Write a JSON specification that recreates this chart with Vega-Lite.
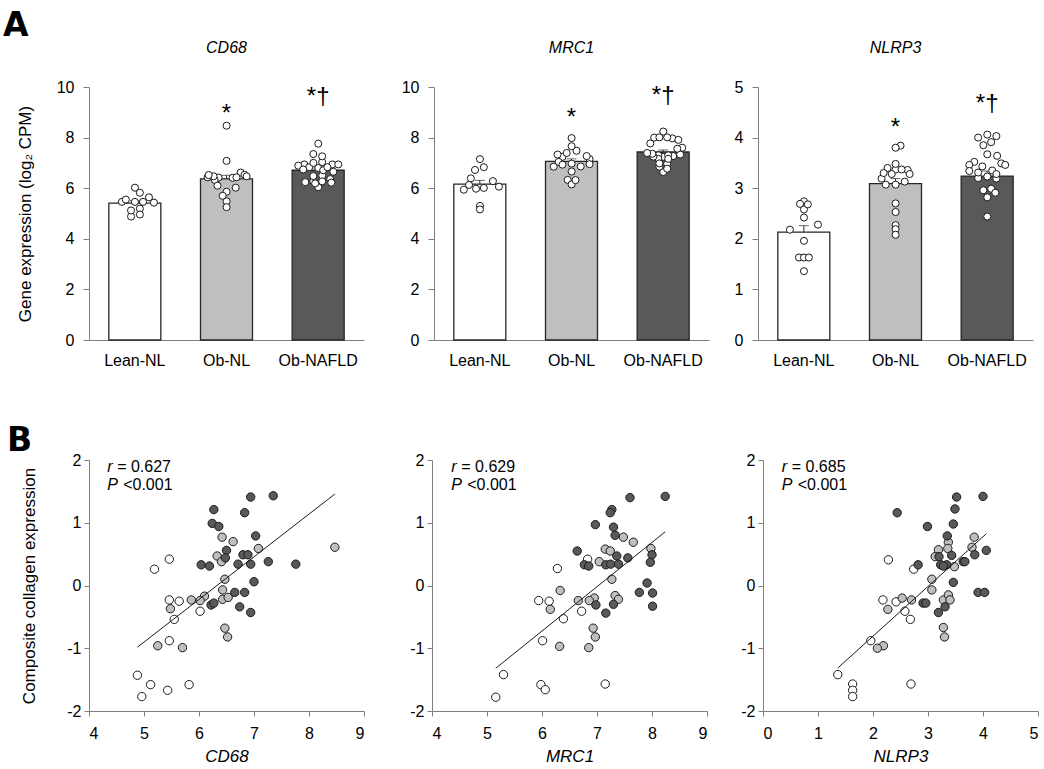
{
  "$schema": "https://vega.github.io/schema/vega-lite/v6.json",
  "background": "white",
  "padding": {"left": 3, "top": 10, "right": 0, "bottom": 5},
  "spacing": 57,
  "datasets": {
    "bars": [
      {"gene":"CD68","group":"Lean-NL","mean":5.41,"sem":0.10},
      {"gene":"CD68","group":"Ob-NL","mean":6.37,"sem":0.14},
      {"gene":"CD68","group":"Ob-NAFLD","mean":6.71,"sem":0.09},
      {"gene":"MRC1","group":"Lean-NL","mean":6.16,"sem":0.15},
      {"gene":"MRC1","group":"Ob-NL","mean":7.06,"sem":0.10},
      {"gene":"MRC1","group":"Ob-NAFLD","mean":7.43,"sem":0.08},
      {"gene":"NLRP3","group":"Lean-NL","mean":2.13,"sem":0.13},
      {"gene":"NLRP3","group":"Ob-NL","mean":3.09,"sem":0.10},
      {"gene":"NLRP3","group":"Ob-NAFLD","mean":3.24,"sem":0.10}
    ],
    "expr": [
      {"gene":"CD68","group":"Lean-NL","value":5.46,"collagen":0.42,"jitter":-0.5},
      {"gene":"CD68","group":"Lean-NL","value":5.19,"collagen":0.26,"jitter":0.19},
      {"gene":"CD68","group":"Lean-NL","value":5.46,"collagen":-0.23,"jitter":0},
      {"gene":"CD68","group":"Lean-NL","value":5.64,"collagen":-0.25,"jitter":0.54},
      {"gene":"CD68","group":"Lean-NL","value":6.02,"collagen":-0.41,"jitter":0},
      {"gene":"CD68","group":"Lean-NL","value":5.55,"collagen":-0.54,"jitter":-0.35},
      {"gene":"CD68","group":"Lean-NL","value":5.46,"collagen":-0.88,"jitter":0.31},
      {"gene":"CD68","group":"Lean-NL","value":4.88,"collagen":-1.43,"jitter":-0.15},
      {"gene":"CD68","group":"Lean-NL","value":5.12,"collagen":-1.58,"jitter":-0.15},
      {"gene":"CD68","group":"Lean-NL","value":4.96,"collagen":-1.77,"jitter":0.19},
      {"gene":"CD68","group":"Lean-NL","value":5.43,"collagen":-1.67,"jitter":0.73},
      {"gene":"CD68","group":"Lean-NL","value":5.82,"collagen":-1.58,"jitter":0.19},
      {"gene":"CD68","group":"Ob-NL","value":6.42,"collagen":0.77,"jitter":-0.31},
      {"gene":"CD68","group":"Ob-NL","value":6.62,"collagen":0.70,"jitter":0.54},
      {"gene":"CD68","group":"Ob-NL","value":7.08,"collagen":0.59,"jitter":0},
      {"gene":"CD68","group":"Ob-NL","value":8.47,"collagen":0.61,"jitter":0},
      {"gene":"CD68","group":"Ob-NL","value":6.33,"collagen":0.47,"jitter":-0.46},
      {"gene":"CD68","group":"Ob-NL","value":6.41,"collagen":0.38,"jitter":0.23},
      {"gene":"CD68","group":"Ob-NL","value":6.47,"collagen":0.10,"jitter":-0.5},
      {"gene":"CD68","group":"Ob-NL","value":6.43,"collagen":-0.07,"jitter":-0.73},
      {"gene":"CD68","group":"Ob-NL","value":6.10,"collagen":-0.17,"jitter":-0.35},
      {"gene":"CD68","group":"Ob-NL","value":5.86,"collagen":-0.23,"jitter":0},
      {"gene":"CD68","group":"Ob-NL","value":6.02,"collagen":-0.24,"jitter":0.35},
      {"gene":"CD68","group":"Ob-NL","value":6.43,"collagen":-0.22,"jitter":0.38},
      {"gene":"CD68","group":"Ob-NL","value":6.53,"collagen":-0.19,"jitter":0.69},
      {"gene":"CD68","group":"Ob-NL","value":5.48,"collagen":-0.37,"jitter":0},
      {"gene":"CD68","group":"Ob-NL","value":6.47,"collagen":-0.68,"jitter":0.77},
      {"gene":"CD68","group":"Ob-NL","value":6.52,"collagen":-0.82,"jitter":-0.69},
      {"gene":"CD68","group":"Ob-NL","value":5.25,"collagen":-0.96,"jitter":0},
      {"gene":"CD68","group":"Ob-NL","value":5.70,"collagen":-0.99,"jitter":-0.15},
      {"gene":"CD68","group":"Ob-NAFLD","value":6.94,"collagen":1.41,"jitter":-0.54},
      {"gene":"CD68","group":"Ob-NAFLD","value":7.35,"collagen":1.43,"jitter":-0.19},
      {"gene":"CD68","group":"Ob-NAFLD","value":6.27,"collagen":1.21,"jitter":-0.19},
      {"gene":"CD68","group":"Ob-NAFLD","value":6.83,"collagen":1.16,"jitter":-0.35},
      {"gene":"CD68","group":"Ob-NAFLD","value":6.24,"collagen":0.99,"jitter":-0.5},
      {"gene":"CD68","group":"Ob-NAFLD","value":6.36,"collagen":0.94,"jitter":0.46},
      {"gene":"CD68","group":"Ob-NAFLD","value":7.03,"collagen":0.79,"jitter":0.15},
      {"gene":"CD68","group":"Ob-NAFLD","value":6.50,"collagen":0.56,"jitter":0.15},
      {"gene":"CD68","group":"Ob-NAFLD","value":6.48,"collagen":0.44,"jitter":-0.19},
      {"gene":"CD68","group":"Ob-NAFLD","value":6.80,"collagen":0.49,"jitter":0},
      {"gene":"CD68","group":"Ob-NAFLD","value":6.89,"collagen":0.49,"jitter":-0.77},
      {"gene":"CD68","group":"Ob-NAFLD","value":6.71,"collagen":0.34,"jitter":0.19},
      {"gene":"CD68","group":"Ob-NAFLD","value":6.94,"collagen":0.34,"jitter":0.54},
      {"gene":"CD68","group":"Ob-NAFLD","value":7.26,"collagen":0.38,"jitter":0.15},
      {"gene":"CD68","group":"Ob-NAFLD","value":7.76,"collagen":0.34,"jitter":0},
      {"gene":"CD68","group":"Ob-NAFLD","value":6.04,"collagen":0.33,"jitter":0},
      {"gene":"CD68","group":"Ob-NAFLD","value":6.19,"collagen":0.31,"jitter":-0.12},
      {"gene":"CD68","group":"Ob-NAFLD","value":7.00,"collagen":0.06,"jitter":-0.19},
      {"gene":"CD68","group":"Ob-NAFLD","value":6.65,"collagen":-0.11,"jitter":0.58},
      {"gene":"CD68","group":"Ob-NAFLD","value":6.83,"collagen":-0.11,"jitter":0.35},
      {"gene":"CD68","group":"Ob-NAFLD","value":6.22,"collagen":-0.31,"jitter":0.5},
      {"gene":"CD68","group":"Ob-NAFLD","value":6.27,"collagen":-0.28,"jitter":0.15},
      {"gene":"CD68","group":"Ob-NAFLD","value":6.74,"collagen":-0.34,"jitter":-0.58},
      {"gene":"CD68","group":"Ob-NAFLD","value":6.94,"collagen":-0.43,"jitter":0.77},
      {"gene":"MRC1","group":"Lean-NL","value":6.28,"collagen":0.27,"jitter":0.5},
      {"gene":"MRC1","group":"Lean-NL","value":6.83,"collagen":0.42,"jitter":0.15},
      {"gene":"MRC1","group":"Lean-NL","value":5.94,"collagen":-0.24,"jitter":-0.62},
      {"gene":"MRC1","group":"Lean-NL","value":6.13,"collagen":-0.25,"jitter":-0.42},
      {"gene":"MRC1","group":"Lean-NL","value":6.72,"collagen":-0.41,"jitter":-0.19},
      {"gene":"MRC1","group":"Lean-NL","value":6.39,"collagen":-0.53,"jitter":-0.35},
      {"gene":"MRC1","group":"Lean-NL","value":6.01,"collagen":-0.88,"jitter":0.15},
      {"gene":"MRC1","group":"Lean-NL","value":5.30,"collagen":-1.42,"jitter":0},
      {"gene":"MRC1","group":"Lean-NL","value":5.98,"collagen":-1.58,"jitter":-0.15},
      {"gene":"MRC1","group":"Lean-NL","value":6.06,"collagen":-1.66,"jitter":0.73},
      {"gene":"MRC1","group":"Lean-NL","value":5.16,"collagen":-1.78,"jitter":0},
      {"gene":"MRC1","group":"Lean-NL","value":7.15,"collagen":-1.57,"jitter":0},
      {"gene":"MRC1","group":"Ob-NL","value":7.48,"collagen":0.77,"jitter":0.19},
      {"gene":"MRC1","group":"Ob-NL","value":7.66,"collagen":0.69,"jitter":0},
      {"gene":"MRC1","group":"Ob-NL","value":7.98,"collagen":0.59,"jitter":0},
      {"gene":"MRC1","group":"Ob-NL","value":7.15,"collagen":0.58,"jitter":0.69},
      {"gene":"MRC1","group":"Ob-NL","value":7.24,"collagen":0.55,"jitter":-0.35},
      {"gene":"MRC1","group":"Ob-NL","value":7.04,"collagen":0.38,"jitter":-0.5},
      {"gene":"MRC1","group":"Ob-NL","value":7.27,"collagen":0.10,"jitter":0.58},
      {"gene":"MRC1","group":"Ob-NL","value":6.33,"collagen":-0.08,"jitter":-0.15},
      {"gene":"MRC1","group":"Ob-NL","value":6.66,"collagen":-0.24,"jitter":0},
      {"gene":"MRC1","group":"Ob-NL","value":6.95,"collagen":-0.20,"jitter":0.69},
      {"gene":"MRC1","group":"Ob-NL","value":6.86,"collagen":-0.24,"jitter":0.35},
      {"gene":"MRC1","group":"Ob-NL","value":7.33,"collagen":-0.16,"jitter":-0.54},
      {"gene":"MRC1","group":"Ob-NL","value":7.39,"collagen":-0.22,"jitter":-0.19},
      {"gene":"MRC1","group":"Ob-NL","value":6.15,"collagen":-0.38,"jitter":0},
      {"gene":"MRC1","group":"Ob-NL","value":6.93,"collagen":-0.68,"jitter":-0.35},
      {"gene":"MRC1","group":"Ob-NL","value":6.97,"collagen":-0.82,"jitter":0},
      {"gene":"MRC1","group":"Ob-NL","value":6.32,"collagen":-0.97,"jitter":0.15},
      {"gene":"MRC1","group":"Ob-NL","value":6.85,"collagen":-0.99,"jitter":-0.69},
      {"gene":"MRC1","group":"Ob-NAFLD","value":7.60,"collagen":1.40,"jitter":0.73},
      {"gene":"MRC1","group":"Ob-NAFLD","value":8.24,"collagen":1.42,"jitter":0},
      {"gene":"MRC1","group":"Ob-NAFLD","value":7.27,"collagen":1.21,"jitter":0.38},
      {"gene":"MRC1","group":"Ob-NAFLD","value":7.24,"collagen":1.16,"jitter":0},
      {"gene":"MRC1","group":"Ob-NAFLD","value":6.97,"collagen":0.97,"jitter":0.15},
      {"gene":"MRC1","group":"Ob-NAFLD","value":7.30,"collagen":0.93,"jitter":-0.19},
      {"gene":"MRC1","group":"Ob-NAFLD","value":7.33,"collagen":0.80,"jitter":0.65},
      {"gene":"MRC1","group":"Ob-NAFLD","value":6.64,"collagen":0.55,"jitter":0},
      {"gene":"MRC1","group":"Ob-NAFLD","value":6.77,"collagen":0.33,"jitter":0.15},
      {"gene":"MRC1","group":"Ob-NAFLD","value":6.85,"collagen":0.31,"jitter":-0.15},
      {"gene":"MRC1","group":"Ob-NAFLD","value":7.16,"collagen":0.33,"jitter":-0.19},
      {"gene":"MRC1","group":"Ob-NAFLD","value":7.25,"collagen":0.34,"jitter":-0.38},
      {"gene":"MRC1","group":"Ob-NAFLD","value":7.36,"collagen":0.47,"jitter":-0.42},
      {"gene":"MRC1","group":"Ob-NAFLD","value":7.39,"collagen":0.34,"jitter":-0.62},
      {"gene":"MRC1","group":"Ob-NAFLD","value":7.56,"collagen":0.44,"jitter":0.54},
      {"gene":"MRC1","group":"Ob-NAFLD","value":8.00,"collagen":0.49,"jitter":-0.35},
      {"gene":"MRC1","group":"Ob-NAFLD","value":7.97,"collagen":0.37,"jitter":0.35},
      {"gene":"MRC1","group":"Ob-NAFLD","value":7.91,"collagen":0.04,"jitter":0.58},
      {"gene":"MRC1","group":"Ob-NAFLD","value":7.77,"collagen":-0.11,"jitter":-0.5},
      {"gene":"MRC1","group":"Ob-NAFLD","value":8.01,"collagen":-0.12,"jitter":-0.15},
      {"gene":"MRC1","group":"Ob-NAFLD","value":8.01,"collagen":-0.33,"jitter":0.15},
      {"gene":"MRC1","group":"Ob-NAFLD","value":6.98,"collagen":-0.31,"jitter":-0.15},
      {"gene":"MRC1","group":"Ob-NAFLD","value":7.30,"collagen":-0.30,"jitter":0.19},
      {"gene":"MRC1","group":"Ob-NAFLD","value":7.16,"collagen":-0.44,"jitter":0.19},
      {"gene":"NLRP3","group":"Lean-NL","value":2.28,"collagen":0.41,"jitter":0.54},
      {"gene":"NLRP3","group":"Lean-NL","value":2.74,"collagen":0.26,"jitter":0},
      {"gene":"NLRP3","group":"Lean-NL","value":2.18,"collagen":-0.23,"jitter":-0.54},
      {"gene":"NLRP3","group":"Lean-NL","value":2.42,"collagen":-0.26,"jitter":0},
      {"gene":"NLRP3","group":"Lean-NL","value":2.58,"collagen":-0.41,"jitter":0},
      {"gene":"NLRP3","group":"Lean-NL","value":2.68,"collagen":-0.54,"jitter":0.15},
      {"gene":"NLRP3","group":"Lean-NL","value":1.96,"collagen":-0.88,"jitter":0},
      {"gene":"NLRP3","group":"Lean-NL","value":1.36,"collagen":-1.42,"jitter":0},
      {"gene":"NLRP3","group":"Lean-NL","value":1.63,"collagen":-1.57,"jitter":-0.19},
      {"gene":"NLRP3","group":"Lean-NL","value":1.63,"collagen":-1.67,"jitter":0},
      {"gene":"NLRP3","group":"Lean-NL","value":1.63,"collagen":-1.77,"jitter":0.19},
      {"gene":"NLRP3","group":"Lean-NL","value":2.69,"collagen":-1.57,"jitter":-0.15},
      {"gene":"NLRP3","group":"Ob-NL","value":3.84,"collagen":0.77,"jitter":0.19},
      {"gene":"NLRP3","group":"Ob-NL","value":3.80,"collagen":0.61,"jitter":0},
      {"gene":"NLRP3","group":"Ob-NL","value":3.37,"collagen":0.69,"jitter":0},
      {"gene":"NLRP3","group":"Ob-NL","value":3.36,"collagen":0.59,"jitter":0.46},
      {"gene":"NLRP3","group":"Ob-NL","value":3.19,"collagen":0.57,"jitter":-0.54},
      {"gene":"NLRP3","group":"Ob-NL","value":3.13,"collagen":0.46,"jitter":0.35},
      {"gene":"NLRP3","group":"Ob-NL","value":3.48,"collagen":0.30,"jitter":0},
      {"gene":"NLRP3","group":"Ob-NL","value":3.07,"collagen":0.10,"jitter":-0.38},
      {"gene":"NLRP3","group":"Ob-NL","value":3.07,"collagen":-0.07,"jitter":0},
      {"gene":"NLRP3","group":"Ob-NL","value":2.53,"collagen":-0.20,"jitter":0},
      {"gene":"NLRP3","group":"Ob-NL","value":2.70,"collagen":-0.23,"jitter":0},
      {"gene":"NLRP3","group":"Ob-NL","value":2.27,"collagen":-0.38,"jitter":0},
      {"gene":"NLRP3","group":"Ob-NL","value":3.28,"collagen":-0.23,"jitter":-0.15},
      {"gene":"NLRP3","group":"Ob-NL","value":3.37,"collagen":-0.15,"jitter":0.23},
      {"gene":"NLRP3","group":"Ob-NL","value":3.40,"collagen":-0.23,"jitter":-0.31},
      {"gene":"NLRP3","group":"Ob-NL","value":3.28,"collagen":-0.67,"jitter":0.54},
      {"gene":"NLRP3","group":"Ob-NL","value":3.30,"collagen":-0.82,"jitter":-0.46},
      {"gene":"NLRP3","group":"Ob-NL","value":2.19,"collagen":-0.96,"jitter":0},
      {"gene":"NLRP3","group":"Ob-NL","value":2.08,"collagen":-1.0,"jitter":0},
      {"gene":"NLRP3","group":"Ob-NAFLD","value":3.52,"collagen":1.41,"jitter":-0.5},
      {"gene":"NLRP3","group":"Ob-NAFLD","value":4.00,"collagen":1.42,"jitter":-0.35},
      {"gene":"NLRP3","group":"Ob-NAFLD","value":2.44,"collagen":1.16,"jitter":0},
      {"gene":"NLRP3","group":"Ob-NAFLD","value":3.49,"collagen":1.22,"jitter":0.54},
      {"gene":"NLRP3","group":"Ob-NAFLD","value":2.99,"collagen":0.94,"jitter":0.15},
      {"gene":"NLRP3","group":"Ob-NAFLD","value":3.46,"collagen":0.98,"jitter":-0.69},
      {"gene":"NLRP3","group":"Ob-NAFLD","value":3.35,"collagen":0.79,"jitter":0.19},
      {"gene":"NLRP3","group":"Ob-NAFLD","value":3.43,"collagen":0.48,"jitter":-0.19},
      {"gene":"NLRP3","group":"Ob-NAFLD","value":3.20,"collagen":0.46,"jitter":-0.35},
      {"gene":"NLRP3","group":"Ob-NAFLD","value":3.85,"collagen":0.49,"jitter":-0.15},
      {"gene":"NLRP3","group":"Ob-NAFLD","value":4.06,"collagen":0.56,"jitter":0},
      {"gene":"NLRP3","group":"Ob-NAFLD","value":2.82,"collagen":0.33,"jitter":0},
      {"gene":"NLRP3","group":"Ob-NAFLD","value":3.23,"collagen":0.33,"jitter":0},
      {"gene":"NLRP3","group":"Ob-NAFLD","value":3.34,"collagen":0.33,"jitter":-0.69},
      {"gene":"NLRP3","group":"Ob-NAFLD","value":3.64,"collagen":0.38,"jitter":0.38},
      {"gene":"NLRP3","group":"Ob-NAFLD","value":3.67,"collagen":0.38,"jitter":0},
      {"gene":"NLRP3","group":"Ob-NAFLD","value":3.46,"collagen":0.05,"jitter":0.69},
      {"gene":"NLRP3","group":"Ob-NAFLD","value":3.91,"collagen":-0.11,"jitter":0.15},
      {"gene":"NLRP3","group":"Ob-NAFLD","value":4.03,"collagen":-0.11,"jitter":0.35},
      {"gene":"NLRP3","group":"Ob-NAFLD","value":2.91,"collagen":-0.28,"jitter":0.31},
      {"gene":"NLRP3","group":"Ob-NAFLD","value":2.96,"collagen":-0.28,"jitter":-0.15},
      {"gene":"NLRP3","group":"Ob-NAFLD","value":3.31,"collagen":-0.34,"jitter":-0.35},
      {"gene":"NLRP3","group":"Ob-NAFLD","value":3.19,"collagen":-0.43,"jitter":0.35},
      {"gene":"NLRP3","group":"Ob-NAFLD","value":3.28,"collagen":0.31,"jitter":0.35}
    ],
    "sig": [
      {"gene":"CD68","group":"Ob-NL","label":"*","at":8.66},
      {"gene":"CD68","group":"Ob-NAFLD","label":"*†","at":9.33},
      {"gene":"MRC1","group":"Ob-NL","label":"*","at":8.49},
      {"gene":"MRC1","group":"Ob-NAFLD","label":"*†","at":9.35},
      {"gene":"NLRP3","group":"Ob-NL","label":"*","at":4.05},
      {"gene":"NLRP3","group":"Ob-NAFLD","label":"*†","at":4.53}
    ],
    "stats": [
      {"gene":"CD68","r":"= 0.627","p":"<0.001"},
      {"gene":"MRC1","r":"= 0.629","p":"<0.001"},
      {"gene":"NLRP3","r":"= 0.685","p":"<0.001"}
    ]
  },
  "config": {
    "font": "Liberation Sans",
    "view": {"stroke": null},
    "axis": {"grid": false, "domainColor": "#7f7f7f", "tickColor": "#7f7f7f", "labelColor": "black", "labelFontSize": 16, "titleFontSize": 17, "titleFontWeight": "normal", "titleColor": "black", "tickSize": 6, "labelFont": "Liberation Sans", "titleFont": "Liberation Sans"},
    "title": {"fontSize": 16, "fontStyle": "italic", "fontWeight": "normal", "font": "Liberation Sans", "color": "black", "offset": 23}
  },
  "vconcat": [
    {
      "title": {"text": "A", "anchor": "start", "font": "DejaVu Sans", "fontSize": 33, "fontWeight": "bold", "fontStyle": "normal", "offset": -3, "dx": -13},
      "spacing": 37,
      "hconcat": [
        {
          "width": 275, "height": 253,
          "title": "CD68",
          "encoding": {"x": {"field": "group", "type": "nominal", "sort": ["Lean-NL","Ob-NL","Ob-NAFLD"], "scale": {"domain": ["Lean-NL","Ob-NL","Ob-NAFLD"], "paddingInner": 0.435, "paddingOuter": 0.2175}, "axis": {"title": null, "ticks": false, "labelAngle": 0, "labelPadding": 12}}},
          "layer": [
            {"data": {"name": "bars"}, "transform": [{"filter": "datum.gene === 'CD68'"}],
             "mark": {"type": "errorbar", "ticks": {"size": 10, "color": "#262626"}, "rule": {"color": "#262626"}},
             "encoding": {"y": {"field": "mean", "type": "quantitative", "scale": {"domain": [0, 10]}, "title": "Gene expression (log₂ CPM)", "axis": {"values": [0,2,4,6,8,10], "labelPadding": 9, "titlePadding": 23, "minExtent": 32, "maxExtent": 32}}, "yError": {"field": "sem"}}},
            {"data": {"name": "bars"}, "transform": [{"filter": "datum.gene === 'CD68'"}],
             "mark": {"type": "bar", "stroke": "#262626", "strokeWidth": 1.3, "width": 52},
             "encoding": {"y": {"field": "mean", "type": "quantitative", "title": "Gene expression (log₂ CPM)"},
                          "fill": {"field": "group", "type": "nominal", "scale": {"domain": ["Lean-NL","Ob-NL","Ob-NAFLD"], "range": ["#ffffff","#bfbfbf","#595959"]}, "legend": null}}},
            {"data": {"name": "expr"}, "transform": [{"filter": "datum.gene === 'CD68'"}],
             "mark": {"type": "point", "shape": "circle", "filled": true, "fill": "white", "stroke": "#1a1a1a", "strokeWidth": 1, "size": 50, "opacity": 1},
             "encoding": {"y": {"field": "value", "type": "quantitative", "title": "Gene expression (log₂ CPM)"},
                          "xOffset": {"field": "jitter", "type": "quantitative", "scale": {"domain": [-1, 1], "range": [0, 52]}}}},
            {"data": {"name": "sig"}, "transform": [{"filter": "datum.gene === 'CD68'"}],
             "mark": {"type": "text", "fontSize": 24, "baseline": "alphabetic", "align": "center", "color": "black"},
             "encoding": {"y": {"field": "at", "type": "quantitative", "title": "Gene expression (log₂ CPM)"}, "text": {"field": "label"}}}
          ]
        },
        {
          "spacing": 25,
          "hconcat": [
            {
              "width": 275, "height": 253,
              "title": "MRC1",
              "encoding": {"x": {"field": "group", "type": "nominal", "sort": ["Lean-NL","Ob-NL","Ob-NAFLD"], "scale": {"domain": ["Lean-NL","Ob-NL","Ob-NAFLD"], "paddingInner": 0.435, "paddingOuter": 0.2175}, "axis": {"title": null, "ticks": false, "labelAngle": 0, "labelPadding": 12}}},
              "layer": [
                {"data": {"name": "bars"}, "transform": [{"filter": "datum.gene === 'MRC1'"}],
                 "mark": {"type": "errorbar", "ticks": {"size": 10, "color": "#262626"}, "rule": {"color": "#262626"}},
                 "encoding": {"y": {"field": "mean", "type": "quantitative", "scale": {"domain": [0, 10]}, "title": null, "axis": {"values": [0,2,4,6,8,10], "labelPadding": 9}}, "yError": {"field": "sem"}}},
                {"data": {"name": "bars"}, "transform": [{"filter": "datum.gene === 'MRC1'"}],
                 "mark": {"type": "bar", "stroke": "#262626", "strokeWidth": 1.3, "width": 52},
                 "encoding": {"y": {"field": "mean", "type": "quantitative", "title": null},
                              "fill": {"field": "group", "type": "nominal", "scale": {"domain": ["Lean-NL","Ob-NL","Ob-NAFLD"], "range": ["#ffffff","#bfbfbf","#595959"]}, "legend": null}}},
                {"data": {"name": "expr"}, "transform": [{"filter": "datum.gene === 'MRC1'"}],
                 "mark": {"type": "point", "shape": "circle", "filled": true, "fill": "white", "stroke": "#1a1a1a", "strokeWidth": 1, "size": 50, "opacity": 1},
                 "encoding": {"y": {"field": "value", "type": "quantitative", "title": null},
                              "xOffset": {"field": "jitter", "type": "quantitative", "scale": {"domain": [-1, 1], "range": [0, 52]}}}},
                {"data": {"name": "sig"}, "transform": [{"filter": "datum.gene === 'MRC1'"}],
                 "mark": {"type": "text", "fontSize": 24, "baseline": "alphabetic", "align": "center", "color": "black"},
                 "encoding": {"y": {"field": "at", "type": "quantitative", "title": null}, "text": {"field": "label"}}}
              ]
            },
            {
              "width": 275, "height": 253,
              "title": "NLRP3",
              "encoding": {"x": {"field": "group", "type": "nominal", "sort": ["Lean-NL","Ob-NL","Ob-NAFLD"], "scale": {"domain": ["Lean-NL","Ob-NL","Ob-NAFLD"], "paddingInner": 0.435, "paddingOuter": 0.2175}, "axis": {"title": null, "ticks": false, "labelAngle": 0, "labelPadding": 12}}},
              "layer": [
                {"data": {"name": "bars"}, "transform": [{"filter": "datum.gene === 'NLRP3'"}],
                 "mark": {"type": "errorbar", "ticks": {"size": 10, "color": "#262626"}, "rule": {"color": "#262626"}},
                 "encoding": {"y": {"field": "mean", "type": "quantitative", "scale": {"domain": [0, 5]}, "title": null, "axis": {"values": [0,1,2,3,4,5], "labelPadding": 9}}, "yError": {"field": "sem"}}},
                {"data": {"name": "bars"}, "transform": [{"filter": "datum.gene === 'NLRP3'"}],
                 "mark": {"type": "bar", "stroke": "#262626", "strokeWidth": 1.3, "width": 52},
                 "encoding": {"y": {"field": "mean", "type": "quantitative", "title": null},
                              "fill": {"field": "group", "type": "nominal", "scale": {"domain": ["Lean-NL","Ob-NL","Ob-NAFLD"], "range": ["#ffffff","#bfbfbf","#595959"]}, "legend": null}}},
                {"data": {"name": "expr"}, "transform": [{"filter": "datum.gene === 'NLRP3'"}],
                 "mark": {"type": "point", "shape": "circle", "filled": true, "fill": "white", "stroke": "#1a1a1a", "strokeWidth": 1, "size": 50, "opacity": 1},
                 "encoding": {"y": {"field": "value", "type": "quantitative", "title": null},
                              "xOffset": {"field": "jitter", "type": "quantitative", "scale": {"domain": [-1, 1], "range": [0, 52]}}}},
                {"data": {"name": "sig"}, "transform": [{"filter": "datum.gene === 'NLRP3'"}],
                 "mark": {"type": "text", "fontSize": 24, "baseline": "alphabetic", "align": "center", "color": "black"},
                 "encoding": {"y": {"field": "at", "type": "quantitative", "title": null}, "text": {"field": "label"}}}
              ]
            }
          ]
        }
      ]
    },
    {
      "title": {"text": "B", "anchor": "start", "font": "DejaVu Sans", "fontSize": 33, "fontWeight": "bold", "fontStyle": "normal", "offset": -6, "dx": -13},
      "spacing": 44,
      "hconcat": [
        {
          "width": 275, "height": 251,
          "layer": [
            {"data": {"name": "expr"}, "transform": [{"filter": "datum.gene === 'CD68'"}],
             "mark": {"type": "point", "shape": "circle", "filled": true, "size": 70, "stroke": "#1a1a1a", "strokeWidth": 1, "opacity": 1},
             "encoding": {"x": {"field": "value", "type": "quantitative", "scale": {"domain": [4, 9]}, "title": "CD68", "axis": {"values": [4,5,6,7,8,9], "labelExpr": "'' + datum.value", "tickSize": 5, "labelPadding": 9, "titlePadding": 7, "titleFontStyle": "italic"}},
                          "y": {"field": "collagen", "type": "quantitative", "scale": {"domain": [-2, 2]}, "title": "Composite collagen expression", "axis": {"values": [-2,-1,0,1,2], "labelExpr": "'' + datum.value", "tickSize": 5, "labelPadding": 3, "titlePadding": 19, "minExtent": 32, "maxExtent": 32}},
                          "fill": {"field": "group", "type": "nominal", "scale": {"domain": ["Lean-NL","Ob-NL","Ob-NAFLD"], "range": ["#ffffff","#bfbfbf","#595959"]}, "legend": null}}},
            {"data": {"name": "expr"}, "transform": [{"filter": "datum.gene === 'CD68'"}, {"regression": "collagen", "on": "value"}],
             "mark": {"type": "line", "color": "#1a1a1a", "strokeWidth": 1},
             "encoding": {"x": {"field": "value", "type": "quantitative", "title": "CD68"}, "y": {"field": "collagen", "type": "quantitative", "title": "Composite collagen expression"}}},
            {"data": {"name": "stats"}, "transform": [{"filter": "datum.gene === 'CD68'"}],
             "mark": {"type": "text", "fontSize": 16, "fontStyle": "italic", "align": "left", "baseline": "middle", "color": "black"},
             "encoding": {"x": {"datum": 4.33}, "y": {"datum": 1.89}, "text": {"value": "r"}}},
            {"data": {"name": "stats"}, "transform": [{"filter": "datum.gene === 'CD68'"}],
             "mark": {"type": "text", "fontSize": 16, "align": "left", "baseline": "middle", "dx": 10, "color": "black"},
             "encoding": {"x": {"datum": 4.33}, "y": {"datum": 1.89}, "text": {"field": "r"}}},
            {"data": {"name": "stats"}, "transform": [{"filter": "datum.gene === 'CD68'"}],
             "mark": {"type": "text", "fontSize": 16, "fontStyle": "italic", "align": "left", "baseline": "middle", "color": "black"},
             "encoding": {"x": {"datum": 4.33}, "y": {"datum": 1.6}, "text": {"value": "P"}}},
            {"data": {"name": "stats"}, "transform": [{"filter": "datum.gene === 'CD68'"}],
             "mark": {"type": "text", "fontSize": 16, "align": "left", "baseline": "middle", "dx": 16, "color": "black"},
             "encoding": {"x": {"datum": 4.33}, "y": {"datum": 1.6}, "text": {"field": "p"}}}
          ]
        },
        {
          "spacing": 32,
          "hconcat": [
            {
              "width": 275, "height": 251,
              "layer": [
                {"data": {"name": "expr"}, "transform": [{"filter": "datum.gene === 'MRC1'"}],
                 "mark": {"type": "point", "shape": "circle", "filled": true, "size": 70, "stroke": "#1a1a1a", "strokeWidth": 1, "opacity": 1},
                 "encoding": {"x": {"field": "value", "type": "quantitative", "scale": {"domain": [4, 9]}, "title": "MRC1", "axis": {"values": [4,5,6,7,8,9], "labelExpr": "'' + datum.value", "tickSize": 5, "labelPadding": 9, "titlePadding": 7, "titleFontStyle": "italic"}},
                              "y": {"field": "collagen", "type": "quantitative", "scale": {"domain": [-2, 2]}, "title": null, "axis": {"values": [-2,-1,0,1,2], "labelExpr": "'' + datum.value", "tickSize": 5, "labelPadding": 3}},
                              "fill": {"field": "group", "type": "nominal", "scale": {"domain": ["Lean-NL","Ob-NL","Ob-NAFLD"], "range": ["#ffffff","#bfbfbf","#595959"]}, "legend": null}}},
                {"data": {"name": "expr"}, "transform": [{"filter": "datum.gene === 'MRC1'"}, {"regression": "collagen", "on": "value"}],
                 "mark": {"type": "line", "color": "#1a1a1a", "strokeWidth": 1},
                 "encoding": {"x": {"field": "value", "type": "quantitative", "title": "MRC1"}, "y": {"field": "collagen", "type": "quantitative", "title": null}}},
                {"data": {"name": "stats"}, "transform": [{"filter": "datum.gene === 'MRC1'"}],
                 "mark": {"type": "text", "fontSize": 16, "fontStyle": "italic", "align": "left", "baseline": "middle", "color": "black"},
                 "encoding": {"x": {"datum": 4.35}, "y": {"datum": 1.89}, "text": {"value": "r"}}},
                {"data": {"name": "stats"}, "transform": [{"filter": "datum.gene === 'MRC1'"}],
                 "mark": {"type": "text", "fontSize": 16, "align": "left", "baseline": "middle", "dx": 10, "color": "black"},
                 "encoding": {"x": {"datum": 4.35}, "y": {"datum": 1.89}, "text": {"field": "r"}}},
                {"data": {"name": "stats"}, "transform": [{"filter": "datum.gene === 'MRC1'"}],
                 "mark": {"type": "text", "fontSize": 16, "fontStyle": "italic", "align": "left", "baseline": "middle", "color": "black"},
                 "encoding": {"x": {"datum": 4.35}, "y": {"datum": 1.6}, "text": {"value": "P"}}},
                {"data": {"name": "stats"}, "transform": [{"filter": "datum.gene === 'MRC1'"}],
                 "mark": {"type": "text", "fontSize": 16, "align": "left", "baseline": "middle", "dx": 16, "color": "black"},
                 "encoding": {"x": {"datum": 4.35}, "y": {"datum": 1.6}, "text": {"field": "p"}}}
              ]
            },
            {
              "width": 275, "height": 251,
              "layer": [
                {"data": {"name": "expr"}, "transform": [{"filter": "datum.gene === 'NLRP3'"}],
                 "mark": {"type": "point", "shape": "circle", "filled": true, "size": 70, "stroke": "#1a1a1a", "strokeWidth": 1, "opacity": 1},
                 "encoding": {"x": {"field": "value", "type": "quantitative", "scale": {"domain": [0, 5]}, "title": "NLRP3", "axis": {"values": [0,1,2,3,4,5], "labelExpr": "'' + datum.value", "tickSize": 5, "labelPadding": 9, "titlePadding": 7, "titleFontStyle": "italic"}},
                              "y": {"field": "collagen", "type": "quantitative", "scale": {"domain": [-2, 2]}, "title": null, "axis": {"values": [-2,-1,0,1,2], "labelExpr": "'' + datum.value", "tickSize": 5, "labelPadding": 3}},
                              "fill": {"field": "group", "type": "nominal", "scale": {"domain": ["Lean-NL","Ob-NL","Ob-NAFLD"], "range": ["#ffffff","#bfbfbf","#595959"]}, "legend": null}}},
                {"data": {"name": "expr"}, "transform": [{"filter": "datum.gene === 'NLRP3'"}, {"regression": "collagen", "on": "value"}],
                 "mark": {"type": "line", "color": "#1a1a1a", "strokeWidth": 1},
                 "encoding": {"x": {"field": "value", "type": "quantitative", "title": "NLRP3"}, "y": {"field": "collagen", "type": "quantitative", "title": null}}},
                {"data": {"name": "stats"}, "transform": [{"filter": "datum.gene === 'NLRP3'"}],
                 "mark": {"type": "text", "fontSize": 16, "fontStyle": "italic", "align": "left", "baseline": "middle", "color": "black"},
                 "encoding": {"x": {"datum": 0.34}, "y": {"datum": 1.89}, "text": {"value": "r"}}},
                {"data": {"name": "stats"}, "transform": [{"filter": "datum.gene === 'NLRP3'"}],
                 "mark": {"type": "text", "fontSize": 16, "align": "left", "baseline": "middle", "dx": 10, "color": "black"},
                 "encoding": {"x": {"datum": 0.34}, "y": {"datum": 1.89}, "text": {"field": "r"}}},
                {"data": {"name": "stats"}, "transform": [{"filter": "datum.gene === 'NLRP3'"}],
                 "mark": {"type": "text", "fontSize": 16, "fontStyle": "italic", "align": "left", "baseline": "middle", "color": "black"},
                 "encoding": {"x": {"datum": 0.34}, "y": {"datum": 1.6}, "text": {"value": "P"}}},
                {"data": {"name": "stats"}, "transform": [{"filter": "datum.gene === 'NLRP3'"}],
                 "mark": {"type": "text", "fontSize": 16, "align": "left", "baseline": "middle", "dx": 16, "color": "black"},
                 "encoding": {"x": {"datum": 0.34}, "y": {"datum": 1.6}, "text": {"field": "p"}}}
              ]
            }
          ]
        }
      ]
    }
  ]
}
